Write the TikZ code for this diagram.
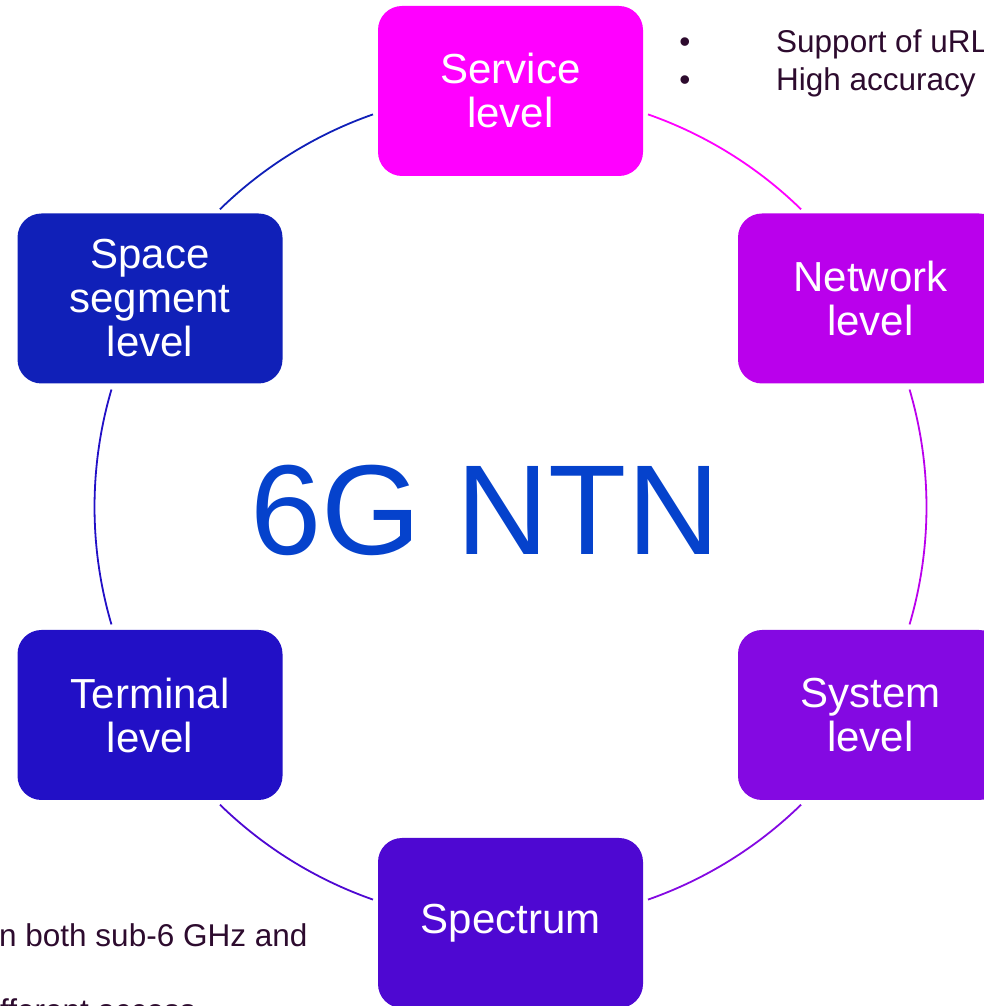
\documentclass[tikz,border=0pt]{standalone}
\usepackage{fontspec}
\setmainfont{Liberation Sans}
\definecolor{svc}{HTML}{FF00FF}
\definecolor{net}{HTML}{BA00EC}
\definecolor{sys}{HTML}{8409E2}
\definecolor{spec}{HTML}{4E08D2}
\definecolor{term}{HTML}{2210C6}
\definecolor{space}{HTML}{1020B8}
\definecolor{title}{HTML}{0542CC}
\definecolor{notetext}{HTML}{2D0B2E}
\begin{document}
\begin{tikzpicture}[x=1pt,y=1pt,
  level/.style={rectangle, rounded corners=24pt, minimum width=265pt,
    minimum height=170pt, inner sep=0pt, text=white, align=center,
    font=\fontsize{42}{44}\selectfont},
  ring/.style={line width=1.8pt},
  note/.style={text=notetext, font=\fontsize{31.5}{38}\selectfont,
    inner sep=0pt, anchor=base west}]
\useasboundingbox (0,0) rectangle (984,1006);
\clip (0,0) rectangle (984,1006);

% centre of the ring
\coordinate (c) at (510.5,499);

% the six levels placed round the ring
\node[level, fill=svc]   (svc)   at (510.5,915)   {Service\\level};
\node[level, fill=net]   (net)   at (870.5,707.5) {Network\\level};
\node[level, fill=sys]   (sys)   at (870.5,291)   {System\\level};
\node[level, fill=spec]  (spec)  at (510.5,83)    {Spectrum};
\node[level, fill=term]  (term)  at (150,291)     {Terminal\\level};
\node[level, fill=space] (space) at (150,707.5)   {Space\\segment\\level};

% ring segments between neighbouring levels, each in the colour of the level it leaves
\draw[ring, draw=svc]   (c) ++(70.7:416)   arc[start angle=70.7,   end angle=45.7,   radius=416];
\draw[ring, draw=net]   (c) ++(16.4:416)   arc[start angle=16.4,   end angle=-16.4,  radius=416];
\draw[ring, draw=sys]   (c) ++(-45.7:416)  arc[start angle=-45.7,  end angle=-70.7,  radius=416];
\draw[ring, draw=spec]  (c) ++(-109.3:416) arc[start angle=-109.3, end angle=-134.3, radius=416];
\draw[ring, draw=term]  (c) ++(-163.6:416) arc[start angle=-163.6, end angle=-196.4, radius=416];
\draw[ring, draw=space] (c) ++(134.3:416)  arc[start angle=134.3,  end angle=109.3,  radius=416];

% centre title
\node[text=title, font=\fontsize{128}{128}\selectfont, inner sep=0pt,
  anchor=base] (ttl) at (485,451) {6G NTN};

% side notes
\node[note, anchor=base] (b1) at (685,953) {•};
\node[note] (t1) at (776,953) {Support of uRL};
\node[note, anchor=base] (b2) at (685,915) {•};
\node[note] (t2) at (776,915) {High accuracy};
\node[note] (t3) at (-1,59) {n both sub-6 GHz and};
\node[note] (t4) at (0,-15) {fferent access};
\end{tikzpicture}
\end{document}
